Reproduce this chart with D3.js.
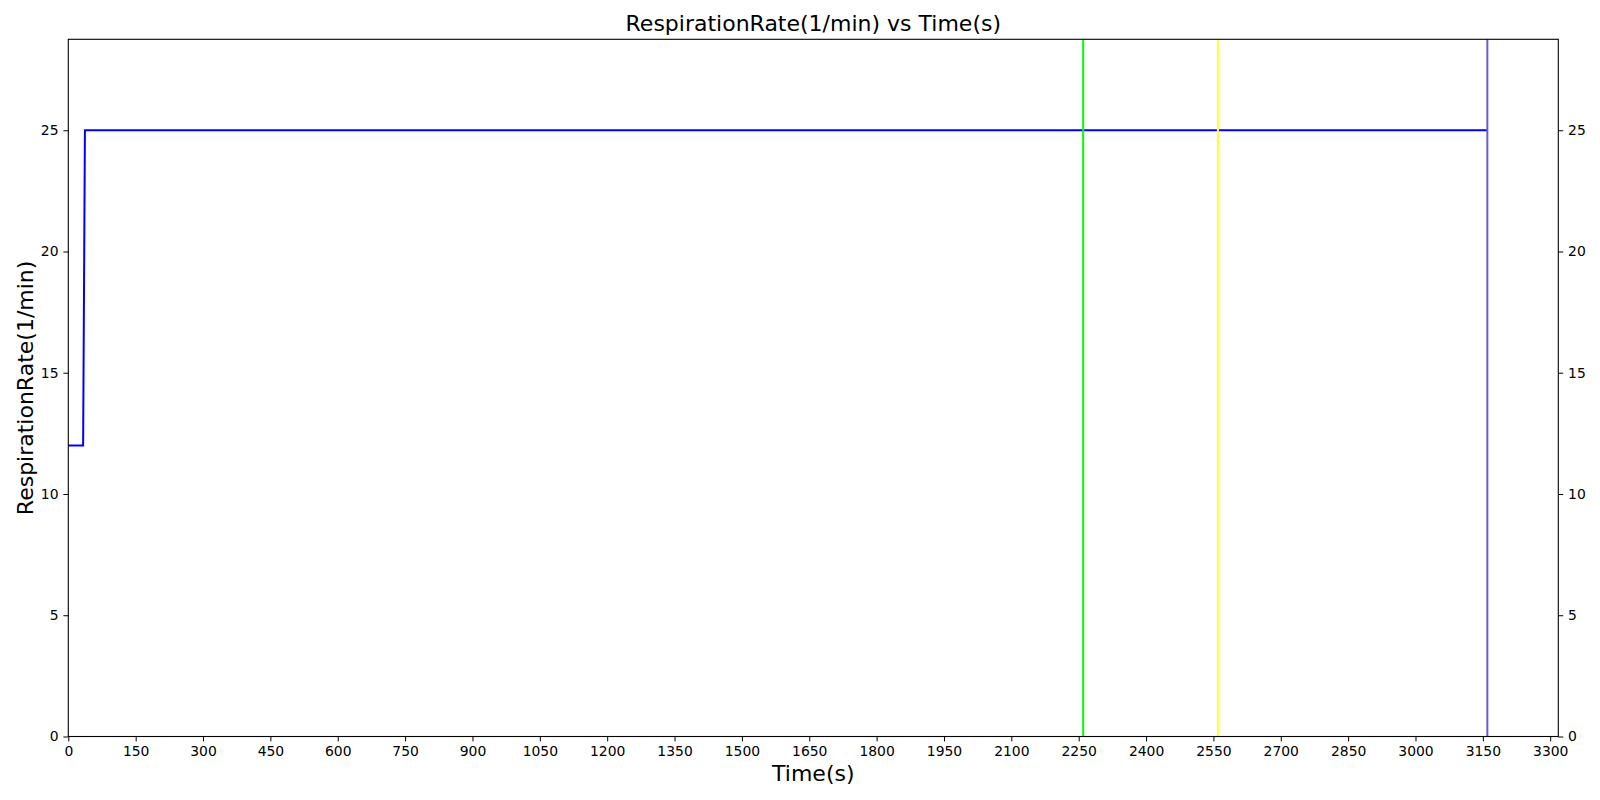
<!DOCTYPE html>
<html><head><meta charset="utf-8">
<script src="https://cdn.jsdelivr.net/npm/d3@7"></script>
<style>body{margin:0;background:#fff}svg{display:block}text{font-family:"DejaVu Sans",sans-serif;fill:#000}</style>
</head><body><svg id="c" width="1600" height="800"></svg>
<script>
const times = [0, 33, 37, 3160];
const rates = [12, 12, 25, 25];
const eventTimes = [2260, 2560, 3160];
const eventColors = ["#00ff00", "#ffff33", "#6a5acd"];
const xTicks = d3.range(0, 3301, 150);
const yTicks = [0, 5, 10, 15, 20, 25];
const title = "RespirationRate(1/min) vs Time(s)";
const xLabel = "Time(s)";
const yLabel = "RespirationRate(1/min)";

const W = 1600, H = 800;
const m = {left: 68.3, right: 41.7, top: 39.3, bottom: 63.5};
const svg = d3.select("#c");
const x = d3.scaleLinear().domain([0, 3160 * 1.05]).range([m.left, W - m.right]);
const y = d3.scaleLinear().domain([0, 25 * 1.15]).range([H - m.bottom, m.top]);

const data = times.map((t, i) => ({t, v: rates[i]}));
const line = d3.line().x(d => x(d.t)).y(d => y(d.v));
svg.append("path").datum(data).attr("d", line).attr("fill", "none")
  .attr("stroke", "#0000ff").attr("stroke-width", 2);

eventTimes.forEach((t, i) => {
  svg.append("line").attr("x1", x(t)).attr("x2", x(t))
    .attr("y1", y.range()[0]).attr("y2", y.range()[1])
    .attr("stroke", eventColors[i]).attr("stroke-width", 2);
});

const fs = 13.9;
const gx = svg.append("g").attr("transform", `translate(0,${H - m.bottom})`)
  .call(d3.axisBottom(x).tickValues(xTicks).tickSize(4.9).tickPadding(4.9).tickFormat(d3.format("d")));
const gl = svg.append("g").attr("transform", `translate(${m.left},0)`)
  .call(d3.axisLeft(y).tickValues(yTicks).tickSize(4.9).tickPadding(4.9));
const gr = svg.append("g").attr("transform", `translate(${W - m.right},0)`)
  .call(d3.axisRight(y).tickValues(yTicks).tickSize(4.9).tickPadding(4.9));
[gx, gl, gr].forEach(g => {
  g.select(".domain").remove();
  g.selectAll("text").style("font-size", fs + "px").style("font-family", "DejaVu Sans");
  g.selectAll("line").attr("stroke", "#000").attr("stroke-width", 1);
});
svg.append("rect").attr("x", m.left).attr("y", m.top)
  .attr("width", W - m.left - m.right).attr("height", H - m.top - m.bottom)
  .attr("fill", "none").attr("stroke", "#000").attr("stroke-width", 1.1);

svg.append("text").attr("x", (m.left + W - m.right) / 2).attr("y", 31)
  .attr("text-anchor", "middle").style("font-size", "22px").text(title);
svg.append("text").attr("x", (m.left + W - m.right) / 2).attr("y", 781)
  .attr("text-anchor", "middle").style("font-size", "22px").text(xLabel);
svg.append("text").attr("transform", `translate(33,${(m.top + H - m.bottom) / 2}) rotate(-90)`)
  .attr("text-anchor", "middle").style("font-size", "22px").text(yLabel);
</script></body></html>
